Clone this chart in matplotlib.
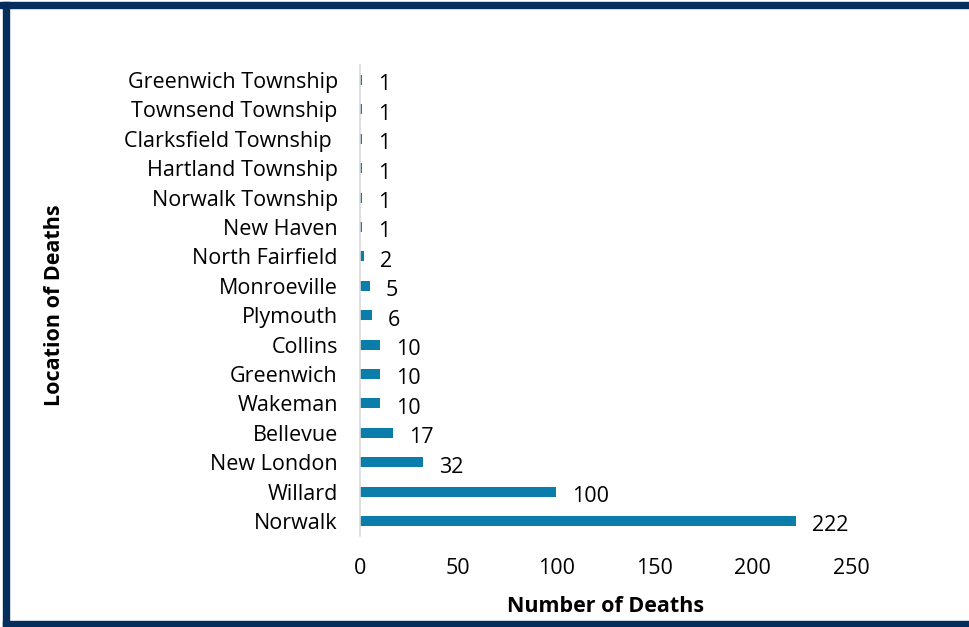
import matplotlib
matplotlib.use('Agg')
import matplotlib.pyplot as plt
from matplotlib.patches import Rectangle

plt.rcParams['font.family'] = ['Open Sans', 'DejaVu Sans']

locations = ['Norwalk', 'Willard', 'New London', 'Bellevue', 'Wakeman', 'Greenwich',
             'Collins', 'Plymouth', 'Monroeville', 'North Fairfield', 'New Haven',
             'Norwalk Township', 'Hartland Township', 'Clarksfield Township ',
             'Townsend Township', 'Greenwich Township']
deaths = [222, 100, 32, 17, 10, 10, 10, 6, 5, 2, 1, 1, 1, 1, 1, 1]
x_ticks = [0, 50, 100, 150, 200, 250]

bar_color = '#0a7dab'
navy = '#062e5c'
fs = 15.5

fig = plt.figure(figsize=(9.69, 6.27), dpi=100)
ax = fig.add_axes([0.3715, 0.1456, 0.5067, 0.7503])

pos = list(range(len(locations)))
ax.barh(pos, deaths, height=0.34, color=bar_color)

for p, v in zip(pos, deaths):
    ax.annotate(str(v), xy=(v, p), xytext=(11.5, -3.5), textcoords='offset points',
                ha='left', va='center', fontsize=fs, color='black')

ax.set_xlim(0, 250)
ax.set_ylim(-0.5, len(locations) - 0.5)
ax.set_xticks(x_ticks)
ax.set_yticks(pos)
ax.set_yticklabels(locations)
ax.tick_params(axis='y', length=0, pad=16, labelsize=fs)
ax.tick_params(axis='x', length=0, pad=16, labelsize=fs)

for s in ['top', 'right', 'bottom']:
    ax.spines[s].set_visible(False)
ax.spines['left'].set_color('#d9d9d9')
ax.spines['left'].set_linewidth(1.2)

ax.set_xlabel('Number of Deaths', fontsize=fs, fontweight='bold')
ax.xaxis.set_label_coords(0.5, -0.128)
ax.set_ylabel('Location of Deaths', fontsize=fs, fontweight='bold')
ax.yaxis.set_label_coords(-0.601, 0.491)

# dark frame on top, left and bottom
fig.patches.append(Rectangle((0, 1 - 8 / 627), 1, 6 / 627, transform=fig.transFigure,
                             color=navy, zorder=10))
fig.patches.append(Rectangle((3 / 969, 0), 6 / 969, 1 - 2 / 627, transform=fig.transFigure,
                             color=navy, zorder=10))
fig.patches.append(Rectangle((3 / 969, 0), 1, 6 / 627, transform=fig.transFigure,
                             color=navy, zorder=10))

fig.savefig('out.png', dpi=100)
